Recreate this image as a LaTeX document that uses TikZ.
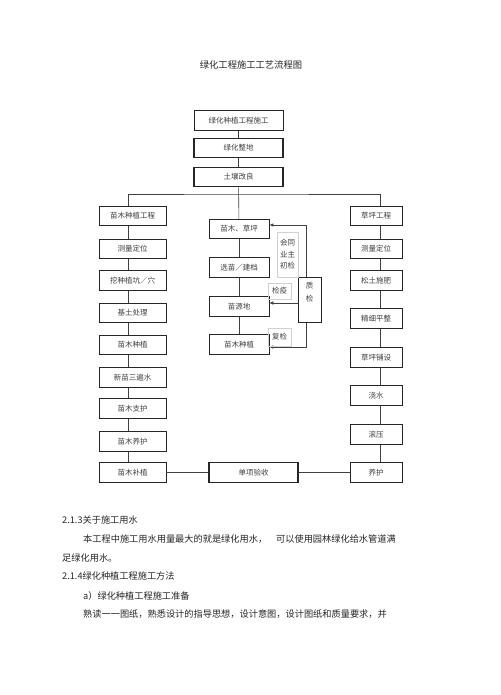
\documentclass[tikz,border=0pt]{standalone}
\usepackage{fontspec}
\setmainfont{Noto Sans CJK SC}
\usetikzlibrary{arrows.meta}
\begin{document}
\begin{tikzpicture}[x=1pt,y=-1pt,
  box/.style={draw=black!85,line width=0.6pt,inner sep=0pt,minimum height=19.5pt,text=black!75,font=\fontsize{7.5}{9}\selectfont},
  thickbox/.style={box,line width=1.1pt},
  lbl/.style={draw=black!18,line width=0.4pt,inner sep=0pt,text=black!75,font=\fontsize{7.5}{11.5}\selectfont,align=center},
  conn/.style={draw=black!75,line width=0.6pt},
  arr/.style={conn,-{Latex[length=4pt,width=3.5pt]}},
  body/.style={anchor=west,inner sep=0pt,text=black!85,font=\fontsize{9.2}{11}\selectfont}]
\fill[white] (0,0) rectangle (500,695);
\useasboundingbox (0,0) rectangle (500,695);
% title
\node[inner sep=0pt,text=black!85,font=\fontsize{9.3}{11}\selectfont] (title) at (251,65) {绿化工程施工工艺流程图};
% top chain
\node[box,minimum width=89pt] (t1) at (238.5,120.5) {绿化种植工程施工};
\node[thickbox,minimum width=89pt] (t2) at (238.5,148) {绿化整地};
\node[thickbox,minimum width=89pt] (t3) at (238.5,177) {土壤改良};
\draw[conn] (t1) -- (t2);
\draw[conn] (t2) -- (t3);
% column guide coordinates
\coordinate (lx) at (128,0);
\coordinate (rx) at (380,0);
\coordinate (hy) at (0,194);
% left column
\foreach \n/\y/\t in {l1/216/苗木种植工程,l2/249/测量定位,l3/280.5/挖种植坑／穴,l4/313/基土处理,l5/345/苗木种植,l6/377.5/新苗三遍水,l7/408.5/苗木支护,l8/441.5/苗木养护,l9/472.5/苗木补植}
  \node[box,minimum width=67pt] (\n) at (132.5,\y) {\t};
\foreach \a/\b in {l1/l2,l2/l3,l3/l4,l4/l5,l5/l6,l6/l7,l7/l8,l8/l9}
  \draw[conn] (\a.south -| lx) -- (\b.north -| lx);
% right column
\foreach \n/\y/\t in {r1/216/草坪工程,r2/249/测量定位,r3/280.5/松土施肥,r4/318.5/精细平整,r5/357.5/草坪铺设,r6/395.5/浇水,r7/434.5/滚压,r8/472.5/养护}
  \node[box,minimum width=52pt] (\n) at (376,\y) {\t};
\foreach \a/\b in {r1/r2,r2/r3,r3/r4,r4/r5,r5/r6,r6/r7,r7/r8}
  \draw[conn] (\a.south -| rx) -- (\b.north -| rx);
% middle column
\node[box,minimum width=60pt,line width=0.8pt] (m1) at (239,229) {苗木、草坪};
\node[box,minimum width=60pt] (m2) at (239,267.5) {选苗／建档};
\node[box,minimum width=60pt] (m3) at (239,306.5) {苗源地};
\node[box,minimum width=60pt] (m4) at (239,344.5) {苗木种植};
\draw[conn] (m1) -- (m2);
\draw[conn] (m2) -- (m3);
\draw[conn] (m3) -- (m4);
% branches
\draw[conn] (t3) -- (m1);
\draw[conn] (l1.north -| lx) |- (hy -| t3.south) -| (r1.north -| rx);
% bottom
\node[thickbox,minimum width=89pt] (acc) at (253.5,472.5) {单项验收};
\draw[conn] (l9) -- (acc);
\draw[conn] (acc) -- (r8);
% quality check feedback
\node[box,minimum width=23pt,minimum height=45pt,align=center,font=\fontsize{7.5}{13}\selectfont,anchor=north,text depth=0pt] (qj) at (309.5,277) {};
\node[inner sep=0pt,text=black!75,font=\fontsize{7.5}{13}\selectfont,align=center] (qjt) at (309.5,292.5) {质\\检};
\coordinate (vx) at (306,0);
\coordinate (ya) at (0,303);
\draw[arr] (qj.north -| vx) |- ([yshift=4pt]m1.east);
\draw[arr] (qj.west |- ya) -- (m3.east |- ya);
\draw[arr] (qj.south -| vx) |- ([yshift=-2.5pt]m4.east);
% labels
\node[lbl,minimum width=21pt,minimum height=45pt] (lb1) at (287.5,254.5) {会同\\业主\\初检};
\node[lbl,minimum width=23pt,minimum height=16pt] (lb2) at (279.5,291) {检疫};
\node[lbl,minimum width=23pt,minimum height=18pt] (lb3) at (279.5,337) {复检};
% body text
\node[body] (p1) at (62,520) {2.1.3关于施工用水};
\node[body] (p2) at (83,539) {本工程中施工用水用量最大的就是绿化用水，\hspace{9pt}可以使用园林绿化给水管道满};
\node[body] (p3) at (62,558) {足绿化用水。};
\node[body] (p4) at (62,576) {2.1.4绿化种植工程施工方法};
\node[body] (p5) at (83,596) {a）绿化种植工程施工准备};
\node[body] (p6) at (83,614) {熟读一一图纸，熟悉设计的指导思想，设计意图，设计图纸和质量要求，并};
\end{tikzpicture}
\end{document}
